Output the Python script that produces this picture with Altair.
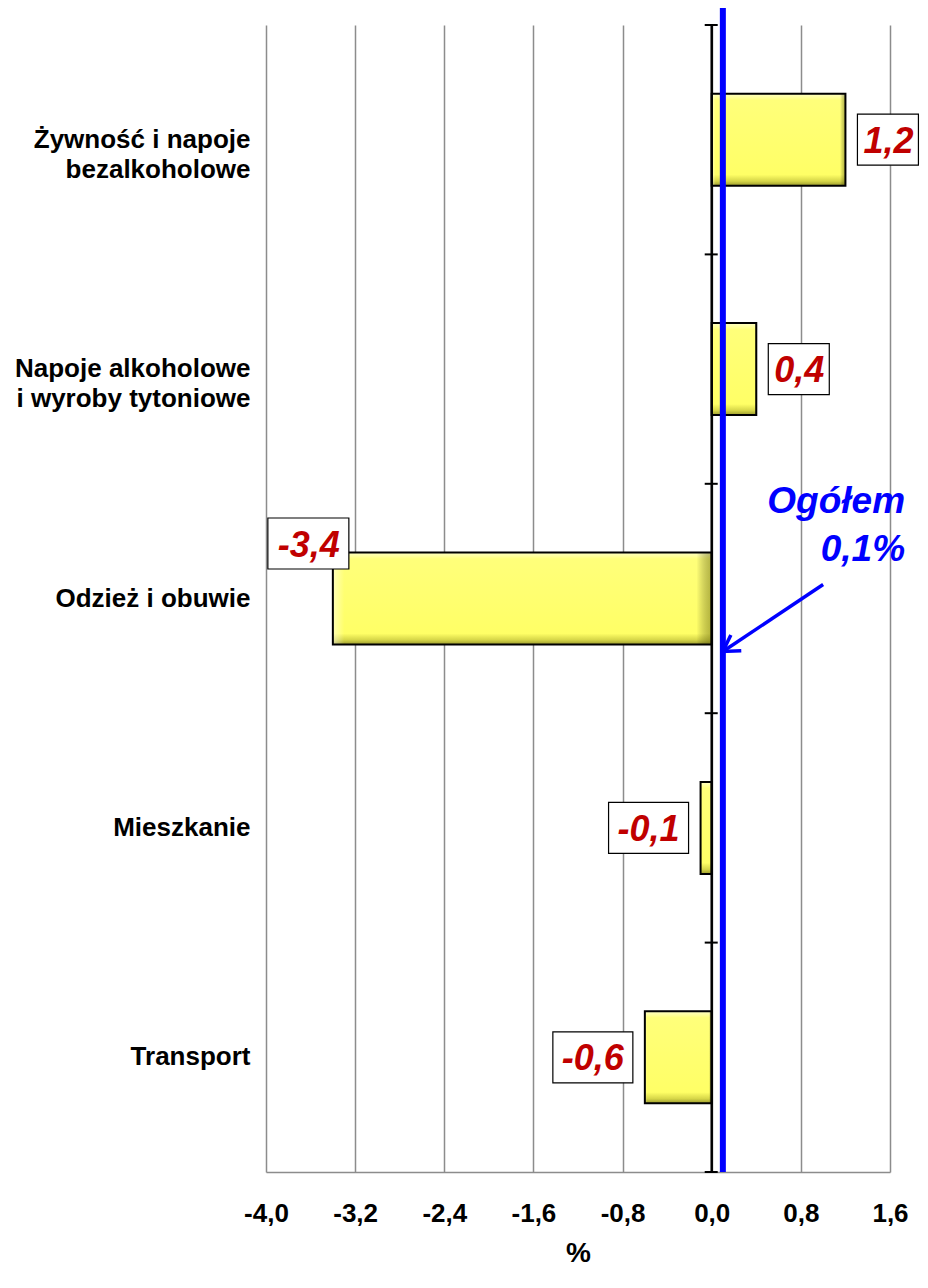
import altair as alt
import pandas as pd

# ---- data ----
categories = [
    "Żywność i napoje\nbezalkoholowe",
    "Napoje alkoholowe\ni wyroby tytoniowe",
    "Odzież i obuwie",
    "Mieszkanie",
    "Transport",
]
values = [1.2, 0.4, -3.4, -0.1, -0.6]
value_labels = ["1,2", "0,4", "-3,4", "-0,1", "-0,6"]
total_value = 0.1
total_label = "Ogółem\n0,1%"
x_ticks = [-4.0, -3.2, -2.4, -1.6, -0.8, 0.0, 0.8, 1.6]

df = pd.DataFrame({"cat": categories, "value": values, "label": value_labels})
df["zero"] = 0.0
ann = pd.DataFrame({"cat": [categories[2]], "txt": [total_label]})

FONT = "Liberation Sans"
RED = "#C00000"
BLUE = "#0000FF"

x_scale = alt.Scale(domain=[-4.0, 1.6], nice=False, zero=False)
y_scale = alt.Scale(domain=categories, paddingInner=0, paddingOuter=0)


# NOTE: no axis=None in the layers: in a layered chart that would disable the shared axis.
def Y(**kw):
    return alt.Y("cat:N", sort=categories, scale=y_scale, **kw)


def X(field, **kw):
    return alt.X(field, type="quantitative", scale=x_scale, **kw)


x_axis = alt.Axis(
    values=x_ticks,
    labelExpr="replace(replace(format(datum.value, '.1f'), '.', ','), '\u2212', '-')",
    grid=True, gridColor="#8c8c8c", gridWidth=1.5,
    domain=True, domainColor="#8c8c8c", domainWidth=1.5,
    ticks=False, labelOverlap=False, labelFlush=False,
    labelFont=FONT, labelFontSize=26, labelFontWeight="bold", labelColor="black",
    labelPadding=28,
    title="%", titleFont=FONT, titleFontSize=28, titleFontWeight="bold",
    titleColor="black", titlePadding=13,
)

y_label_axis = alt.Axis(
    title=None, domain=False, ticks=False, grid=False,
    labelExpr="split(datum.label, '\\n')",
    labelFont=FONT, labelFontSize=26, labelFontWeight="bold", labelColor="black",
    labelPadding=16, labelLineHeight=30, labelAlign="right", labelBaseline="middle",
    labelLimit=400,
)

vert_grad = {
    "gradient": "linear", "x1": 0, "y1": 0, "x2": 0, "y2": 1,
    "stops": [
        {"offset": 0.0, "color": "#FFFFC8"},
        {"offset": 0.07, "color": "#FFFF7A"},
        {"offset": 0.88, "color": "#FFFF66"},
        {"offset": 0.95, "color": "#D6D648"},
        {"offset": 1.0, "color": "#9A9A2E"},
    ],
}
horiz_grad = {
    "gradient": "linear", "x1": 0, "y1": 0, "x2": 1, "y2": 0,
    "stops": [
        {"offset": 0.0, "color": "rgba(255,255,255,0.5)"},
        {"offset": 0.03, "color": "rgba(255,255,255,0)"},
        {"offset": 0.96, "color": "rgba(0,0,0,0)"},
        {"offset": 1.0, "color": "rgba(90,90,0,0.45)"},
    ],
}

base = alt.Chart(df)
BAR_H = 92

bars = base.mark_bar(fill=vert_grad, strokeWidth=0, height=BAR_H).encode(
    x=X("value", axis=x_axis), x2="zero:Q", y=Y(axis=y_label_axis),
)
bars_shade = base.mark_bar(fill=horiz_grad, strokeWidth=0, height=BAR_H).encode(
    x=X("value"), x2="zero:Q", y=Y()
)
bars_outline = base.mark_bar(filled=False, stroke="black", strokeWidth=2, height=BAR_H).encode(
    x=X("value"), x2="zero:Q", y=Y()
)

# tick marks crossing the zero axis at category boundaries
cat_ticks = base.mark_rule(color="black", strokeWidth=2, xOffset=-7, x2Offset=6).encode(
    x=X("zero"), x2="zero:Q", y=Y(bandPosition=0)
)
last_tick = base.transform_filter(
    alt.FieldEqualPredicate(field="cat", equal=categories[-1])
).mark_rule(color="black", strokeWidth=2, xOffset=-7, x2Offset=6).encode(
    x=X("zero"), x2="zero:Q", y=Y(bandPosition=1)
)

zero_rule = alt.Chart(pd.DataFrame({"zero": [0.0]})).mark_rule(
    color="black", strokeWidth=2.5
).encode(x=X("zero"))

total_rule = alt.Chart(pd.DataFrame({"t": [total_value]})).mark_rule(
    color=BLUE, strokeWidth=6
).encode(x=X("t"), y=alt.value(-18), y2=alt.value(1147))

box_style = dict(fill="white", stroke="black", strokeWidth=1.2, height=51)
txt_style = dict(font=FONT, fontSize=36, fontWeight="bold", fontStyle="italic",
                 color=RED, align="center", baseline="middle")

pos = base.transform_filter("datum.value > 0")
neg = base.transform_filter("datum.value < 0 && datum.value > -3")
far = base.transform_filter("datum.value <= -3")

pos_box = pos.mark_bar(xOffset=12, x2Offset=73, **box_style).encode(
    x=X("value"), x2="value:Q", y=Y())
neg_box = neg.mark_bar(xOffset=-92, x2Offset=-12, **box_style).encode(
    x=X("value"), x2="value:Q", y=Y())
far_box = far.mark_bar(xOffset=-65, x2Offset=16, yOffset=-55, **box_style).encode(
    x=X("value"), x2="value:Q", y=Y())

pos_txt = pos.mark_text(dx=43, dy=2, **txt_style).encode(x=X("value"), y=Y(), text="label:N")
neg_txt = neg.mark_text(dx=-52, dy=2, **txt_style).encode(x=X("value"), y=Y(), text="label:N")
far_txt = far.mark_text(dx=-24, dy=2, yOffset=-55, **txt_style).encode(
    x=X("value"), y=Y(), text="label:N")

ann_base = alt.Chart(ann)
arrow_line = ann_base.mark_rule(color=BLUE, strokeWidth=3.5, yOffset=-14, y2Offset=53).encode(
    x=alt.datum(1.0), x2=alt.datum(total_value),
    y=Y(), y2=alt.Y2("cat"),
)
arrow_head = ann_base.mark_point(
    shape="M-1,-0.6L0,0L-1,0.6", filled=False, stroke=BLUE, strokeWidth=3.5,
    size=1000, angle=146.7, yOffset=53, opacity=1,
).encode(x=alt.datum(total_value), y=Y())
ann_text = ann_base.mark_text(
    font=FONT, fontSize=37, fontWeight="bold", fontStyle="italic", color=BLUE,
    align="right", baseline="alphabetic", lineBreak="\n", lineHeight=48, yOffset=-86,
).encode(x=alt.datum(1.735), y=Y(), text="txt:N")

chart = alt.layer(
    bars, bars_shade, bars_outline, zero_rule, cat_ticks, last_tick,
    total_rule, pos_box, neg_box, far_box, pos_txt, neg_txt, far_txt,
    arrow_line, arrow_head, ann_text,
).properties(
    width=624, height=1147,
    autosize=alt.AutoSizeParams(type="none"),
    padding={"left": 258, "top": 17, "right": 30, "bottom": 98},
    background="white",
).configure_view(stroke="transparent", strokeWidth=0)

chart.save("out.html", embed_options={"renderer": "svg", "actions": False})
